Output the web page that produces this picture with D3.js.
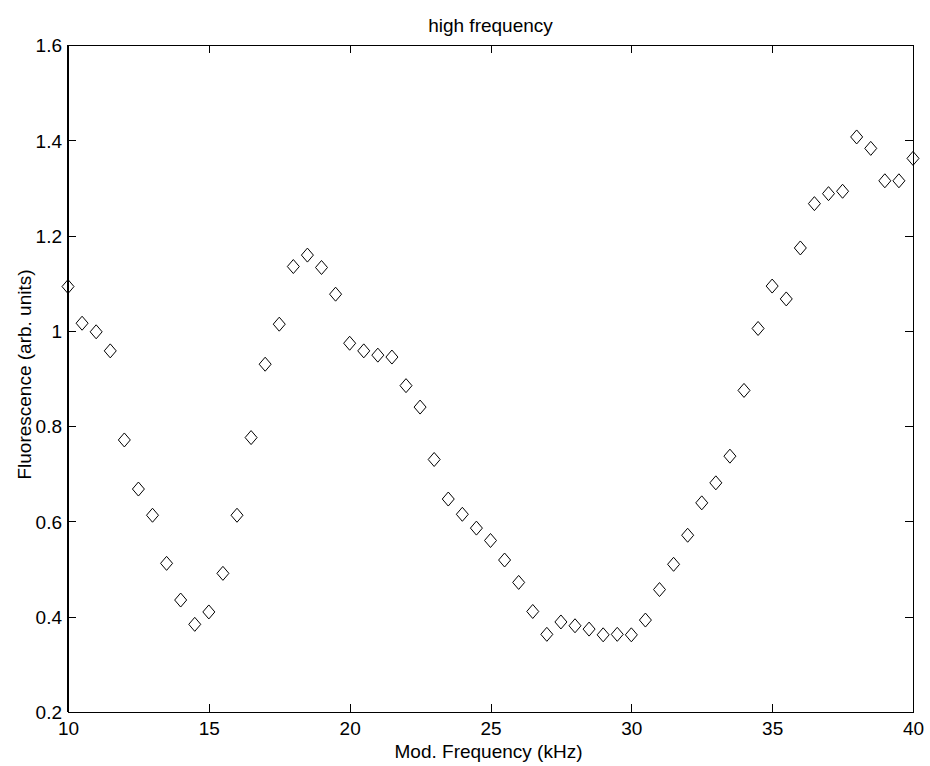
<!DOCTYPE html>
<html>
<head>
<meta charset="utf-8">
<script src="https://cdn.jsdelivr.net/npm/d3@7"></script>
<style>
  html, body { margin: 0; padding: 0; background: #fff; }
  svg { display: block; }
  text { font-family: "Liberation Sans", Arial, Helvetica, sans-serif; fill: #000; }
</style>
</head>
<body>
<svg id="chart" width="930" height="766"></svg>
<script>
// ---- data ----
const freqs = [10,10.5,11,11.5,12,12.5,13,13.5,14,14.5,15,15.5,16,16.5,17,17.5,18,18.5,19,19.5,
  20,20.5,21,21.5,22,22.5,23,23.5,24,24.5,25,25.5,26,26.5,27,27.5,28,28.5,29,29.5,
  30,30.5,31,31.5,32,32.5,33,33.5,34,34.5,35,35.5,36,36.5,37,37.5,38,38.5,39,39.5,40];
const fluorescence = [1.093,1.016,0.998,0.958,0.771,0.668,0.613,0.512,0.435,0.384,0.410,0.491,0.613,0.776,0.930,1.014,1.135,1.159,1.133,1.077,
  0.974,0.958,0.949,0.945,0.885,0.840,0.730,0.647,0.615,0.586,0.560,0.519,0.472,0.411,0.363,0.389,0.381,0.374,0.362,0.363,
  0.362,0.393,0.457,0.510,0.571,0.639,0.681,0.737,0.875,1.005,1.094,1.067,1.174,1.267,1.288,1.293,1.407,1.383,1.315,1.315,1.362];
const xTicks = [10,15,20,25,30,35,40];
const yTicks = [0.2,0.4,0.6,0.8,1,1.2,1.4,1.6];
const titleText = "high frequency";
const xLabel = "Mod. Frequency (kHz)";
const yLabel = "Fluorescence (arb. units)";

// ---- layout ----
const pLeft = 68, pRight = 913, pTop = 45, pBottom = 712;
const fs = 19;
const svg = d3.select("#chart");

const x = d3.scaleLinear().domain([10, 40]).range([pLeft, pRight]);
const y = d3.scaleLinear().domain([0.2, 1.6]).range([pBottom, pTop]);

const fmt = d => String(d);
const tickLen = 8;

const gx = svg.append("g").attr("transform", `translate(0,${pBottom})`)
  .call(d3.axisBottom(x).tickValues(xTicks).tickFormat(fmt).tickSizeInner(-tickLen).tickSizeOuter(0));
const gxt = svg.append("g").attr("transform", `translate(0,${pTop})`)
  .call(d3.axisTop(x).tickValues(xTicks).tickFormat("").tickSizeInner(-tickLen).tickSizeOuter(0));
const gy = svg.append("g").attr("transform", `translate(${pLeft},0)`)
  .call(d3.axisLeft(y).tickValues(yTicks).tickFormat(fmt).tickSizeInner(-tickLen).tickSizeOuter(0));
const gyr = svg.append("g").attr("transform", `translate(${pRight},0)`)
  .call(d3.axisRight(y).tickValues(yTicks).tickFormat("").tickSizeInner(-tickLen).tickSizeOuter(0));

[gx, gxt, gy, gyr].forEach(g => {
  g.select(".domain").remove();
  g.selectAll("line").attr("stroke", "#000").attr("stroke-width", 1).attr("shape-rendering", "crispEdges");
  g.selectAll("text").attr("font-size", fs).style("fill", "#000");
  g.attr("font-family", null);
});
gx.selectAll("text").attr("dy", null).attr("y", 23);
gy.selectAll("text").attr("dy", "0.36em").attr("x", -6);

// box
svg.append("rect")
  .attr("x", pLeft).attr("y", pTop)
  .attr("width", pRight - pLeft).attr("height", pBottom - pTop)
  .attr("fill", "none").attr("stroke", "#000").attr("stroke-width", 1)
  .attr("shape-rendering", "crispEdges");
svg.append("line").attr("x1", pLeft).attr("x2", pLeft).attr("y1", pTop).attr("y2", pBottom)
  .attr("stroke", "#000").attr("stroke-width", 2);

// markers (diamonds)
const hw = 6, hh = 7;
const diamond = `M0,${-hh}L${hw},0L0,${hh}L${-hw},0Z`;
svg.append("g").selectAll("path")
  .data(freqs.map((f, i) => ({ f, v: fluorescence[i] })))
  .join("path")
  .attr("d", diamond)
  .attr("transform", d => `translate(${x(d.f)},${y(d.v)})`)
  .attr("fill", "none")
  .attr("stroke", "#000")
  .attr("stroke-width", 1);

// title and labels
svg.append("text").attr("x", (pLeft + pRight) / 2).attr("y", 31.5)
  .attr("text-anchor", "middle").attr("font-size", fs).text(titleText);
svg.append("text").attr("x", (pLeft + pRight) / 2 - 2).attr("y", 758)
  .attr("text-anchor", "middle").attr("font-size", fs).text(xLabel);
svg.append("text")
  .attr("transform", `translate(31,${(pTop + pBottom) / 2 - 4}) rotate(-90)`)
  .attr("text-anchor", "middle").attr("font-size", fs).text(yLabel);
</script>
</body>
</html>
